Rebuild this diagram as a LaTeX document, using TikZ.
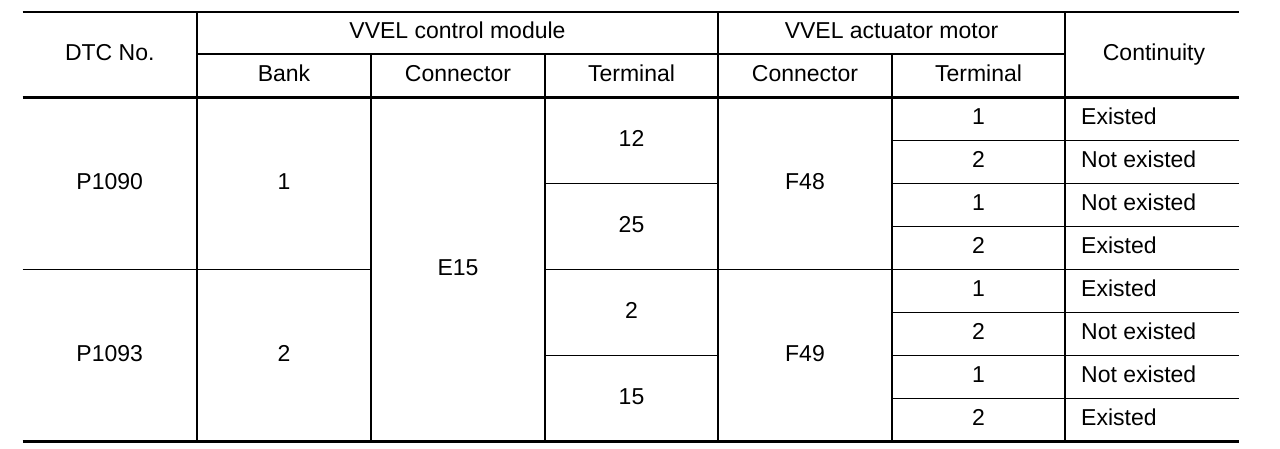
\documentclass[tikz,border=0pt]{standalone}
\usepackage{fontspec}
\setmainfont{Liberation Sans}
\begin{document}
\begin{tikzpicture}[x=1pt,y=-1pt,
    txt/.style={anchor=base,inner sep=0pt,font=\fontsize{23}{27}\selectfont},
    thin/.style={line width=1.3pt}]
    \useasboundingbox (0,0) rectangle (1280,448);
    % rules
    \draw[line width=2.7pt] (22.5,12) -- (1239,12);
    \draw[line width=2.2pt] (22.5,97.5) -- (1239,97.5);
    \draw[line width=3pt] (22.5,441.5) -- (1239,441.5);
    \draw[thin] (197,54) -- (1065,54);
    \foreach \x in {197,718,1065} \draw[thin] (\x,12) -- (\x,441.5);
    \foreach \x in {371,545,892} \draw[thin] (\x,54) -- (\x,441.5);
    \draw[thin] (22.5,269.5) -- (371,269.5) (545,269.5) -- (1239,269.5);
    \foreach \y in {183.5,355.5} \draw[thin] (545,\y) -- (718,\y) (892,\y) -- (1239,\y);
    \foreach \y in {140.5,226.5,312.5,398.5} \draw[thin] (892,\y) -- (1239,\y);
    % header
    \node[txt] (dtc) at (109.75,60) {DTC No.};
    \node[txt] (ecm) at (457.5,38.5) {VVEL control module};
    \node[txt] (act) at (891.5,38.5) {VVEL actuator motor};
    \node[txt] (cont) at (1154,60) {Continuity};
    \node[txt] (bank) at (284,81) {Bank};
    \node[txt] (conn) at (458,81) {Connector};
    \node[txt] (term) at (631.5,81) {Terminal};
    \node[txt] (conna) at (805,81) {Connector};
    \node[txt] (terma) at (978.5,81) {Terminal};
    % body
    \node[txt] (p1090) at (109.75,189) {P1090};
    \node[txt] (p1093) at (109.75,361) {P1093};
    \node[txt] (b1) at (284,189) {1};
    \node[txt] (b2) at (284,361) {2};
    \node[txt] (e15) at (458,275) {E15};
    \node[txt] (t12) at (631.5,146) {12};
    \node[txt] (t25) at (631.5,232) {25};
    \node[txt] (t2) at (631.5,318) {2};
    \node[txt] (t15) at (631.5,404) {15};
    \node[txt] (f48) at (805,189) {F48};
    \node[txt] (f49) at (805,361) {F49};
    \foreach \i/\t/\c in {0/1/Existed,1/2/Not existed,2/1/Not existed,3/2/Existed,
                         4/1/Existed,5/2/Not existed,6/1/Not existed,7/2/Existed}{
        \node[txt] (a\i) at (978.5,124.5+43*\i) {\t};
        \node[txt,anchor=base west] (c\i) at (1081,124.5+43*\i) {\c};
    }
\end{tikzpicture}
\end{document}
